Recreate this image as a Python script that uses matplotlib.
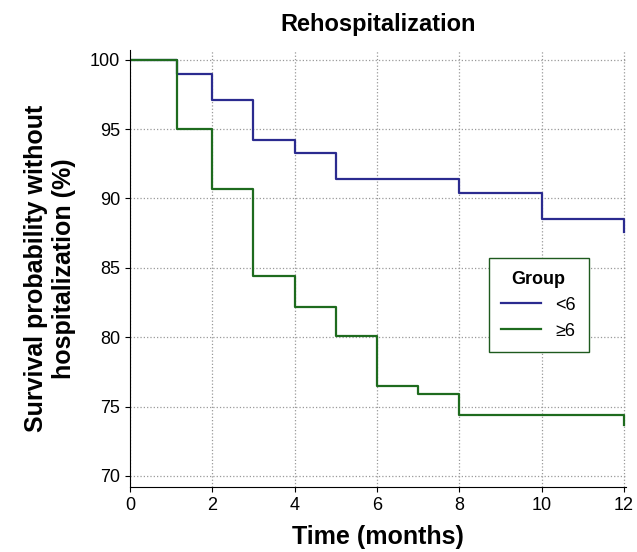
import matplotlib
matplotlib.use("Agg")
import matplotlib.pyplot as plt
plt.rcParams['font.family'] = ['Liberation Sans', 'DejaVu Sans']

times_lt6 = [0, 1.15, 2, 3, 4, 5, 8, 10, 12]
surv_lt6 = [100, 99.0, 97.1, 94.2, 93.3, 91.4, 90.4, 88.5, 87.6]
times_ge6 = [0, 1.15, 2, 3, 4, 5, 6, 7, 8, 12]
surv_ge6 = [100, 95.0, 90.7, 84.4, 82.2, 80.1, 76.5, 75.9, 74.4, 73.7]
xticks = [0, 2, 4, 6, 8, 10, 12]
yticks = [70, 75, 80, 85, 90, 95, 100]

fig = plt.figure(figsize=(6.37, 5.52), dpi=100)
ax = fig.add_axes([130/637, (552-487)/552, (626-130)/637, (487-50)/552])
ax.step(times_lt6, surv_lt6, where='post', color='#2b2b8f', lw=1.6, label='<6')
ax.step(times_ge6, surv_ge6, where='post', color='#1e6b1e', lw=1.6, label='≥6')
ax.set_xlim(0, 12.05)
ax.set_ylim(69.2, 100.7)
ax.set_xticks(xticks)
ax.set_yticks(yticks)
ax.grid(True, linestyle=':', color='#999999', lw=0.9)
for s in ['top', 'right']:
    ax.spines[s].set_visible(False)
ax.tick_params(labelsize=13)
ax.set_xlabel('Time (months)', fontsize=18, fontweight='bold', labelpad=8)
ax.set_ylabel('Survival probability without\nhospitalization (%)', fontsize=18, fontweight='bold', labelpad=10)
ax.set_title('Rehospitalization', fontsize=17, fontweight='bold', pad=14)
leg = ax.legend(title='Group', loc='upper left', bbox_to_anchor=(0.705, 0.545),
                fontsize=13, frameon=True, fancybox=False, edgecolor='#1e5a1e',
                framealpha=1, handlelength=2.2, borderpad=0.7)
leg.get_title().set_fontweight('bold')
leg.get_title().set_fontsize(13)
fig.savefig('out.png', dpi=100)
